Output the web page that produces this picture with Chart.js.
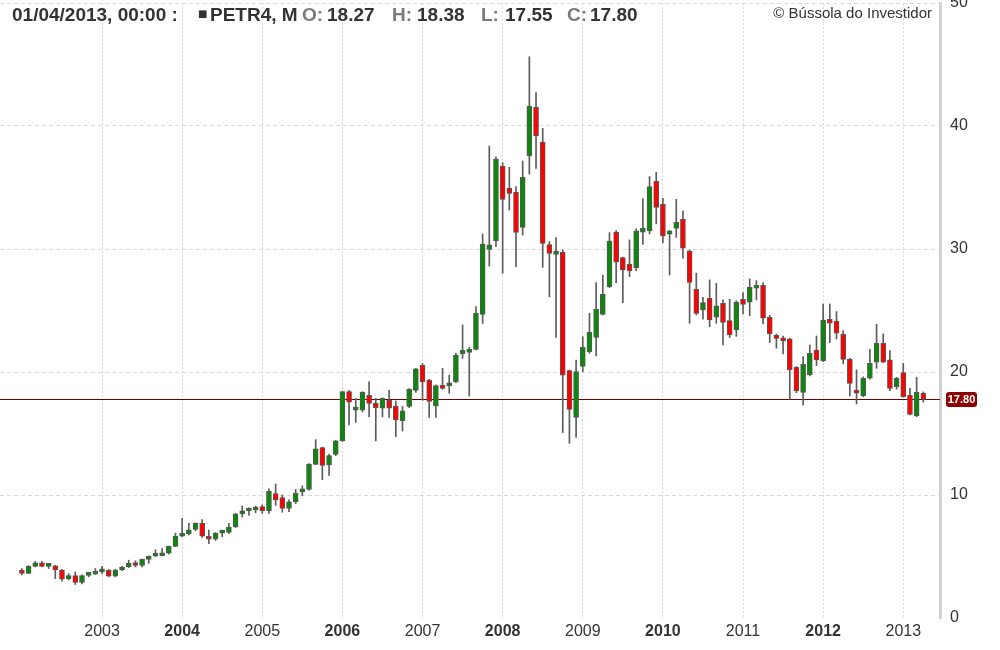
<!DOCTYPE html>
<html>
<head>
<meta charset="utf-8">
<script src="https://cdn.jsdelivr.net/npm/chart.js@4.4.1/dist/chart.umd.min.js"></script>
<style>
html,body{margin:0;padding:0;background:#fff;}
#wrap{position:relative;width:1000px;height:650px;overflow:hidden;background:#fff;}
#c{position:absolute;left:0;top:0;}
.hd{position:absolute;top:5px;font-family:"Liberation Sans",Arial,sans-serif;font-weight:bold;font-size:19px;line-height:19px;color:#333;white-space:nowrap;}
.g{color:#7a7a7a;}
.sq{font-family:"DejaVu Sans",sans-serif;font-size:10px;font-weight:normal;top:4px;}
#copy{position:absolute;top:5px;right:68px;font-family:"Liberation Sans",Arial,sans-serif;font-size:15px;line-height:15px;color:#333;white-space:nowrap;}
</style>
</head>
<body>
<div id="wrap">
<canvas id="c" width="1000" height="650"></canvas>
<div class="hd" style="left:12px">01/04/2013, 00:00 :</div>
<div class="hd sq" style="left:198px">■</div>
<div class="hd" style="left:210px">PETR4, M</div>
<div class="hd g" style="left:302px">O:</div>
<div class="hd" id="vO" style="left:327px"></div>
<div class="hd g" style="left:392px">H:</div>
<div class="hd" id="vH" style="left:417px"></div>
<div class="hd g" style="left:481px">L:</div>
<div class="hd" id="vL" style="left:505px"></div>
<div class="hd g" style="left:567px">C:</div>
<div class="hd" id="vC" style="left:590px"></div>
<div id="copy">© Bússola do Investidor</div>
</div>
<script>
// Monthly PETR4 candles, Jan 2002 .. Apr 2013
const startYear = 2002;
const opens = [
 3.90,3.63,4.20,4.48,4.20,4.25,3.90,3.18,3.45,2.90,3.47,3.56,
 3.75,3.88,3.40,3.90,4.15,4.42,4.27,4.76,5.02,5.06,5.27,5.82,
 6.66,6.86,7.20,7.70,6.65,6.40,6.90,6.95,7.40,8.46,8.70,8.78,
 9.05,8.72,10.12,9.80,8.90,9.45,10.25,10.45,12.49,13.85,12.45,13.30,
 14.40,18.40,16.90,16.90,18.10,17.45,17.05,17.70,17.20,16.05,17.20,18.50,
 20.55,19.35,17.25,18.86,18.88,19.21,21.47,21.60,21.84,24.69,29.97,30.68,
 36.75,34.93,34.60,31.76,37.56,41.51,38.70,30.35,29.56,29.73,20.11,16.31,
 20.45,21.65,22.82,24.69,26.94,31.36,29.30,28.76,28.49,31.36,31.47,35.51,
 33.64,31.20,31.68,32.42,29.84,26.73,25.04,25.99,24.45,25.59,24.18,23.42,
 25.91,25.67,26.81,27.05,24.45,22.98,22.69,22.69,20.38,18.35,19.76,21.79,
 20.93,24.29,24.15,23.07,21.03,18.54,18.05,19.49,20.79,22.34,20.98,18.81,
 19.95,18.13,16.45,18.27
];
const highs = [
 4.02,4.25,4.60,4.60,4.42,4.30,3.95,3.60,3.75,3.50,3.70,4.02,
 4.20,3.95,3.96,4.20,4.70,4.65,4.80,5.05,5.55,5.65,5.85,6.90,
 8.10,7.70,7.75,8.00,7.15,6.95,7.15,7.70,8.50,9.10,8.95,9.10,
 9.20,10.50,10.90,10.00,9.60,10.45,10.75,12.55,14.50,13.90,13.30,14.45,
 18.45,18.50,17.85,18.40,19.20,17.85,17.90,18.50,17.65,17.20,18.65,20.30,
 20.70,19.40,18.95,20.30,19.75,21.52,23.82,22.00,25.31,31.22,38.37,37.50,
 37.02,36.64,35.07,37.15,45.63,42.71,39.81,30.60,30.92,29.92,20.16,20.97,
 22.87,24.77,27.26,27.88,31.33,31.49,29.35,30.74,31.63,34.07,35.89,36.24,
 34.12,31.50,34.04,33.09,29.92,28.03,26.08,27.49,27.21,25.86,25.91,25.80,
 26.45,27.57,27.43,27.27,24.61,23.09,22.93,22.74,20.44,21.25,22.20,22.93,
 25.53,25.53,24.91,23.36,21.12,20.17,19.60,21.85,23.88,23.10,21.74,19.57,
 20.71,18.68,19.57,18.38
];
const lows = [
 3.50,3.60,4.15,4.15,4.02,3.20,3.00,3.10,2.72,2.78,3.35,3.54,
 3.60,3.35,3.35,3.85,4.10,4.15,4.15,4.45,5.00,5.05,5.20,5.80,
 6.60,6.75,7.10,6.55,6.05,6.30,6.60,6.85,7.35,8.20,8.35,8.55,
 8.50,8.50,9.15,8.60,8.65,9.30,9.95,10.40,12.45,11.25,11.60,13.20,
 14.35,15.70,15.90,16.75,16.35,14.40,16.35,16.30,14.75,15.20,17.10,18.35,
 17.70,16.30,16.30,18.59,18.27,19.13,21.11,18.05,21.79,23.95,28.62,30.19,
 28.02,33.17,28.56,31.14,36.09,36.56,28.51,26.12,22.82,15.07,14.20,14.69,
 20.02,21.52,21.30,24.63,26.86,27.27,25.64,27.76,28.24,30.38,31.22,32.04,
 30.52,27.89,30.95,29.25,23.96,24.64,24.29,23.69,23.96,22.20,22.80,22.90,
 24.72,24.58,25.86,23.91,22.39,21.93,21.47,17.78,18.32,17.32,19.68,20.52,
 20.85,22.39,22.69,20.66,18.05,17.40,18.00,19.41,20.30,20.76,18.49,18.60,
 17.95,16.51,16.37,17.55
];
const closes = [
 3.63,4.20,4.48,4.20,4.22,3.90,3.15,3.45,2.90,3.45,3.56,3.75,
 3.87,3.40,3.90,4.15,4.45,4.27,4.76,5.02,5.06,5.27,5.82,6.66,
 6.86,7.17,7.70,6.65,6.40,6.90,7.02,7.40,8.46,8.70,8.78,9.02,
 8.72,10.30,9.60,8.90,9.45,10.15,10.45,12.49,13.75,12.40,13.20,14.40,
 18.40,17.55,17.00,18.35,17.45,17.10,17.85,17.05,16.10,16.85,18.60,20.25,
 19.20,17.60,18.90,18.67,19.00,21.38,21.79,21.87,24.77,30.41,30.33,37.31,
 34.04,34.52,31.35,35.82,41.62,39.21,30.46,29.65,29.84,19.75,16.96,20.03,
 22.00,23.22,25.10,26.31,30.65,28.92,28.30,28.22,31.47,31.68,35.07,33.39,
 31.06,31.47,32.17,30.06,27.29,24.77,25.64,24.23,25.37,24.04,23.01,25.67,
 25.50,26.89,27.00,24.37,23.09,22.74,22.53,20.17,18.46,20.63,21.52,20.98,
 24.23,23.96,23.15,21.03,19.08,18.27,19.49,20.71,22.34,20.79,18.67,19.49,
 18.00,16.56,18.35,17.80
];
const months = opens.map((_, i) => `${startYear + Math.floor(i / 12)}-${String(i % 12 + 1).padStart(2, '0')}`);
const yearLabels = ['2003','2004','2005','2006','2007','2008','2009','2010','2011','2012','2013'];
const boldLabels = ['2004','2006','2008','2010','2012'];
const yTickValues = [0,10,20,30,40,50];

const last = opens.length - 1;
document.getElementById('vO').textContent = opens[last].toFixed(2);
document.getElementById('vH').textContent = highs[last].toFixed(2);
document.getElementById('vL').textContent = lows[last].toFixed(2);
document.getElementById('vC').textContent = closes[last].toFixed(2);

const FONT = '"Liberation Sans", Arial, sans-serif';
Chart.defaults.font.family = FONT;

const tickIndex = yearLabels.map(y => months.indexOf(y + '-01'));

const lastPricePlugin = {
  id: 'lastPrice',
  beforeDatasetsDraw(chart) {
    const {ctx, chartArea, scales: {y}} = chart;
    const py = Math.round(y.getPixelForValue(closes[last])) + 0.5;
    ctx.save();
    ctx.strokeStyle = '#6e0000';
    ctx.lineWidth = 1;
    ctx.beginPath();
    ctx.moveTo(chartArea.left, py);
    ctx.lineTo(chartArea.right, py);
    ctx.stroke();
    ctx.restore();
  },
  afterDraw(chart) {
    const {ctx, chartArea, scales: {y}} = chart;
    const py = y.getPixelForValue(closes[last]);
    const bx = chartArea.right + 6, bw = 31, bh = 15, by = Math.round(py - bh / 2), r = 3;
    ctx.save();
    ctx.fillStyle = '#8b0000';
    ctx.beginPath();
    ctx.moveTo(bx + r, by);
    ctx.lineTo(bx + bw - r, by);
    ctx.quadraticCurveTo(bx + bw, by, bx + bw, by + r);
    ctx.lineTo(bx + bw, by + bh - r);
    ctx.quadraticCurveTo(bx + bw, by + bh, bx + bw - r, by + bh);
    ctx.lineTo(bx + r, by + bh);
    ctx.quadraticCurveTo(bx, by + bh, bx, by + bh - r);
    ctx.lineTo(bx, by + r);
    ctx.quadraticCurveTo(bx, by, bx + r, by);
    ctx.fill();
    ctx.fillStyle = '#fff';
    ctx.font = 'bold 11px ' + FONT;
    ctx.textAlign = 'center';
    ctx.textBaseline = 'middle';
    ctx.fillText(closes[last].toFixed(2), bx + bw / 2, by + bh / 2 + 0.5);
    ctx.restore();
  }
};

new Chart(document.getElementById('c'), {
  type: 'bar',
  data: {
    labels: months,
    datasets: [
      {
        label: 'body',
        data: opens.map((o, i) => ({x: i, y: [o, closes[i]]})),
        backgroundColor: opens.map((o, i) => closes[i] >= o ? '#0b870b' : '#ff0000'),
        borderColor: '#585858',
        borderWidth: 1,
        borderSkipped: false,
        barThickness: 5,
        minBarLength: 3,
        grouped: false,
        order: 0
      },
      {
        label: 'wick',
        data: lows.map((l, i) => ({x: i, y: [l, highs[i]]})),
        backgroundColor: '#5c5c5c',
        borderWidth: 0,
        barThickness: 1,
        grouped: false,
        order: 1
      }
    ]
  },
  options: {
    responsive: false,
    animation: false,
    layout: {padding: {top: 3, left: 0, right: 0, bottom: 0}},
    plugins: {legend: {display: false}, tooltip: {enabled: false}, title: {display: false}},
    scales: {
      x: {
        type: 'linear',
        min: -3.28,
        max: 137.5,
        offset: false,
        afterBuildTicks: s => { s.ticks = tickIndex.map(v => ({value: v})); },
        afterFit: s => { s.height = 32; s.paddingLeft = 0; s.paddingRight = 0; },
        grid: {color: '#d8d8d8', lineWidth: 1, drawTicks: false, offset: false},
        border: {display: false, dash: [2, 2]},
        ticks: {
          padding: 4,
          color: '#333',
          autoSkip: false,
          maxRotation: 0,
          callback: v => yearLabels[tickIndex.indexOf(v)],
          font: c => ({family: FONT, size: 16,
            weight: (c.tick && boldLabels.includes(yearLabels[tickIndex.indexOf(c.tick.value)])) ? 'bold' : 'normal'})
        }
      },
      y: {
        position: 'right',
        min: 0,
        max: 50,
        afterBuildTicks: s => { s.ticks = yTickValues.map(v => ({value: v})); },
        afterFit: s => { s.width = 60; s.paddingTop = 0; s.paddingBottom = 0; },
        ticks: {padding: 10, color: '#333', font: {family: FONT, size: 16}},
        grid: {color: c => (c.tick && c.tick.value === 0) ? 'rgba(0,0,0,0)' : '#d9d9d9', drawTicks: false},
        border: {display: true, color: '#d2d2d2', width: 3, dash: [4, 3]}
      }
    }
  },
  plugins: [lastPricePlugin]
});
</script>
</body>
</html>
